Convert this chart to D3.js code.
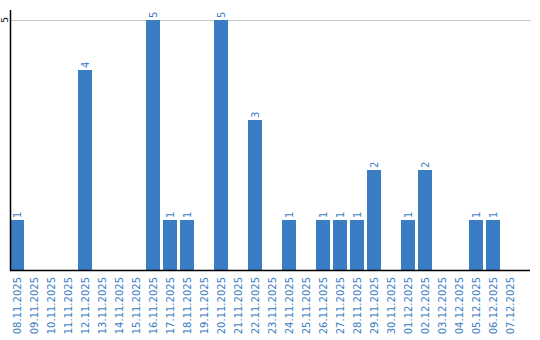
<!DOCTYPE html>
<html>
<head>
<meta charset="utf-8">
<script src="https://cdn.jsdelivr.net/npm/d3@7"></script>
<style>
  body { margin: 0; background: #fff; }
  svg { display: block; font-family: "DejaVu Sans", sans-serif; }
</style>
</head>
<body>
<div id="viscontainer"></div>
<script>
const dates = [
  "08.11.2025", "09.11.2025", "10.11.2025", "11.11.2025", "12.11.2025",
  "13.11.2025", "14.11.2025", "15.11.2025", "16.11.2025", "17.11.2025",
  "18.11.2025", "19.11.2025", "20.11.2025", "21.11.2025", "22.11.2025",
  "23.11.2025", "24.11.2025", "25.11.2025", "26.11.2025", "27.11.2025",
  "28.11.2025", "29.11.2025", "30.11.2025", "01.12.2025", "02.12.2025",
  "03.12.2025", "04.12.2025", "05.12.2025", "06.12.2025", "07.12.2025",
];
const counts = [1, 0, 0, 0, 4, 0, 0, 0, 5, 1, 1, 0, 5, 0, 3, 0, 1, 0, 1, 1, 1, 2, 0, 1, 2, 0, 0, 1, 1, 0];
const yTicks = [5];

const width = 540;
const height = 340;
const marginLeft = 10;
const marginTop = 10;
const plotBottom = 270;
const axisEnd = 530;
const blue = "#3b7dc2";

const data = dates.map((d, i) => ({ date: d, count: counts[i] }));

const svg = d3.create("svg").attr("width", width).attr("height", height);
viscontainer.append(svg.node());

const xScale = d3.scaleBand()
  .domain(dates)
  .range([marginLeft, 517])
  .paddingInner(3 / 17)
  .paddingOuter(0);

const yScale = d3.scaleLinear()
  .domain([0, 5.2])
  .range([plotBottom, marginTop]);

// gridlines
svg.append("g")
  .selectAll("line")
  .data(yTicks)
  .join("line")
  .attr("x1", marginLeft)
  .attr("x2", 531)
  .attr("y1", (d) => Math.round(yScale(d)) + 0.5)
  .attr("y2", (d) => Math.round(yScale(d)) + 0.5)
  .attr("stroke", "#c8c8c8")
  .attr("stroke-width", 1);

// bars
svg.append("g")
  .selectAll("rect")
  .data(data.filter((d) => d.count > 0))
  .join("rect")
  .attr("x", (d) => xScale(d.date))
  .attr("y", (d) => yScale(d.count))
  .attr("width", xScale.bandwidth())
  .attr("height", (d) => plotBottom - yScale(d.count))
  .attr("fill", blue);

// value labels
svg.append("g")
  .selectAll("text")
  .data(data.filter((d) => d.count > 0))
  .join("text")
  .attr("transform", (d) =>
    `translate(${xScale(d.date) + xScale.bandwidth() / 2 + 3.5}, ${yScale(d.count) - 2}) rotate(-90)`)
  .attr("font-size", 10)
  .attr("fill", blue)
  .text((d) => d.count);

// y tick labels
svg.append("g")
  .selectAll("text")
  .data(yTicks)
  .join("text")
  .attr("transform", (d) => `translate(${marginLeft - 2}, ${yScale(d)}) rotate(-90)`)
  .attr("text-anchor", "middle")
  .attr("font-size", 9)
  .attr("fill", "#000")
  .text((d) => d);

// x labels
svg.append("g")
  .selectAll("text")
  .data(dates)
  .join("text")
  .attr("transform", (d) =>
    `translate(${xScale(d) + xScale.bandwidth() / 2 + 3.5}, ${plotBottom + 7}) rotate(-90)`)
  .attr("text-anchor", "end")
  .attr("font-size", 10)
  .attr("fill", blue)
  .text((d) => d);

// axis lines
svg.append("line")
  .attr("x1", marginLeft + 0.5).attr("x2", marginLeft + 0.5)
  .attr("y1", marginTop).attr("y2", plotBottom + 1)
  .attr("stroke", "#000").attr("stroke-width", 1.5);
svg.append("line")
  .attr("x1", marginLeft).attr("x2", axisEnd)
  .attr("y1", plotBottom + 0.5).attr("y2", plotBottom + 0.5)
  .attr("stroke", "#000").attr("stroke-width", 1.5);
</script>
</body>
</html>
